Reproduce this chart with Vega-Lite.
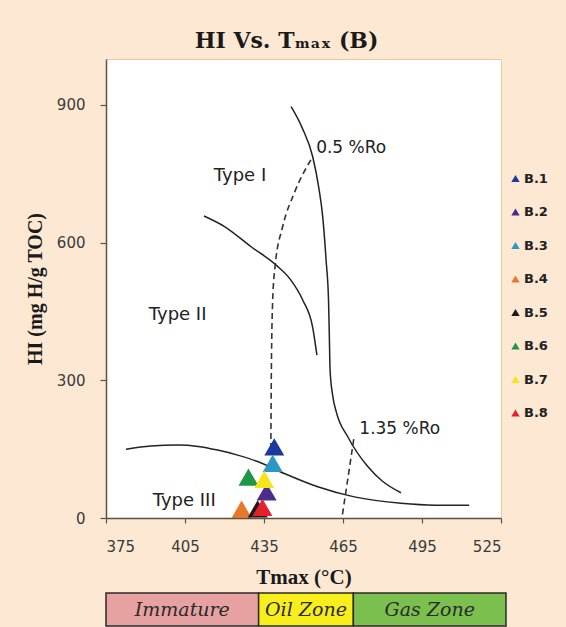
{
  "$schema": "https://vega.github.io/schema/vega-lite/v6.json",
  "background": "#FDE9D3",
  "padding": {"top": 29, "left": 24, "right": 22, "bottom": 0},
  "title": {
    "text": "HI Vs. Tₘₐₓ  (B)",
    "font": "DejaVu Serif",
    "fontSize": 22,
    "fontWeight": "bold",
    "color": "#1a1a1a",
    "anchor": "middle",
    "offset": 6
  },
  "bounds": "flush",
  "spacing": 75,
  "resolve": {"scale": {"color": "independent"}, "legend": {"color": "independent"}},
  "datasets": {
    "kerogen": [
      {"curve": "Type I", "T": 445.3, "HI": 896},
      {"curve": "Type I", "T": 449.5, "HI": 850},
      {"curve": "Type I", "T": 453.5, "HI": 787},
      {"curve": "Type I", "T": 455.8, "HI": 720},
      {"curve": "Type I", "T": 457.3, "HI": 656},
      {"curve": "Type I", "T": 458.6, "HI": 560},
      {"curve": "Type I", "T": 459.5, "HI": 475},
      {"curve": "Type I", "T": 459.8, "HI": 400},
      {"curve": "Type I", "T": 460.1, "HI": 322},
      {"curve": "Type I", "T": 461.0, "HI": 270},
      {"curve": "Type I", "T": 462.5, "HI": 230},
      {"curve": "Type I", "T": 466.8, "HI": 177},
      {"curve": "Type I", "T": 474.4, "HI": 112},
      {"curve": "Type I", "T": 480.0, "HI": 80},
      {"curve": "Type I", "T": 487.0, "HI": 55},
      {"curve": "Type II", "T": 412.2, "HI": 658},
      {"curve": "Type II", "T": 420.0, "HI": 635},
      {"curve": "Type II", "T": 430.1, "HI": 591},
      {"curve": "Type II", "T": 439.6, "HI": 551},
      {"curve": "Type II", "T": 445.0, "HI": 520},
      {"curve": "Type II", "T": 449.7, "HI": 475},
      {"curve": "Type II", "T": 453.5, "HI": 415},
      {"curve": "Type II", "T": 455.1, "HI": 355},
      {"curve": "Type III", "T": 382.6, "HI": 150},
      {"curve": "Type III", "T": 392.0, "HI": 157},
      {"curve": "Type III", "T": 402.2, "HI": 159},
      {"curve": "Type III", "T": 410.0, "HI": 156},
      {"curve": "Type III", "T": 417.4, "HI": 148},
      {"curve": "Type III", "T": 425.0, "HI": 137},
      {"curve": "Type III", "T": 432.6, "HI": 123},
      {"curve": "Type III", "T": 442.7, "HI": 97},
      {"curve": "Type III", "T": 455.4, "HI": 68},
      {"curve": "Type III", "T": 469.3, "HI": 46},
      {"curve": "Type III", "T": 487.0, "HI": 32},
      {"curve": "Type III", "T": 500.0, "HI": 28},
      {"curve": "Type III", "T": 512.9, "HI": 28}
    ],
    "ro": [
      {"line": "0.5 %Ro", "T": 437.6, "HI": 150},
      {"line": "0.5 %Ro", "T": 437.8, "HI": 322},
      {"line": "0.5 %Ro", "T": 438.3, "HI": 475},
      {"line": "0.5 %Ro", "T": 439.2, "HI": 548},
      {"line": "0.5 %Ro", "T": 442.1, "HI": 635},
      {"line": "0.5 %Ro", "T": 446.5, "HI": 708},
      {"line": "0.5 %Ro", "T": 453.5, "HI": 787},
      {"line": "1.35 %Ro", "T": 464.8, "HI": 8},
      {"line": "1.35 %Ro", "T": 469.3, "HI": 180}
    ],
    "samples": [
      {"sample": "B.1", "T": 438.9, "HI": 155},
      {"sample": "B.2", "T": 436.0, "HI": 57},
      {"sample": "B.3", "T": 438.3, "HI": 119},
      {"sample": "B.4", "T": 426.5, "HI": 19},
      {"sample": "B.5", "T": 432.6, "HI": 20},
      {"sample": "B.6", "T": 429.1, "HI": 89},
      {"sample": "B.7", "T": 435.1, "HI": 84},
      {"sample": "B.8", "T": 434.4, "HI": 23}
    ],
    "typeLabels": [
      {"label": "Type I", "T": 425.9, "HI": 745},
      {"label": "Type II", "T": 402.2, "HI": 442},
      {"label": "Type III", "T": 404.7, "HI": 38}
    ],
    "roLabels": [
      {"label": "0.5 %Ro", "T": 454.8, "HI": 806},
      {"label": "1.35 %Ro", "T": 471.2, "HI": 194}
    ],
    "zones": [
      {"zone": "Immature", "from": 375, "to": 433},
      {"zone": "Oil Zone", "from": 433, "to": 469},
      {"zone": "Gas Zone", "from": 469, "to": 527}
    ]
  },
  "vconcat": [
    {
      "width": 395,
      "height": 459,
      "encoding": {
        "x": {
          "field": "T",
          "type": "quantitative",
          "scale": {"domain": [375, 525], "nice": false, "zero": false},
          "axis": {
            "values": [375, 405, 435, 465, 495, 525],
            "title": "Tmax (°C)",
            "titleFontSize": 21,
            "titlePadding": 12,
            "tickSize": 5,
            "labelPadding": 16
          }
        },
        "y": {
          "field": "HI",
          "type": "quantitative",
          "scale": {"domain": [0, 1000], "nice": false},
          "axis": {
            "values": [0, 300, 600, 900],
            "title": "HI (mg H/g TOC)",
            "titleFontSize": 20,
            "titlePadding": 11,
            "tickSize": 6,
            "labelPadding": 15,
            "minExtent": 50,
            "maxExtent": 50
          }
        }
      },
      "layer": [
        {
          "data": {"name": "kerogen"},
          "mark": {"type": "line", "color": "#222222", "strokeWidth": 1.5, "interpolate": "monotone"},
          "encoding": {"detail": {"field": "curve"}}
        },
        {
          "data": {"name": "ro"},
          "mark": {"type": "line", "color": "#333333", "strokeWidth": 1.6, "strokeDash": [6, 4], "interpolate": "monotone"},
          "encoding": {"detail": {"field": "line"}}
        },
        {
          "data": {"name": "samples"},
          "mark": {"type": "point", "shape": "triangle-up", "filled": true, "size": 400, "opacity": 1},
          "encoding": {
            "color": {
              "field": "sample",
              "type": "nominal",
              "scale": {
                "domain": ["B.1", "B.2", "B.3", "B.4", "B.5", "B.6", "B.7", "B.8"],
                "range": ["#1B3A9C", "#4A2C8C", "#2B97C4", "#E8762C", "#1A1A1A", "#1E9646", "#F5E51B", "#E51F2B"]
              },
              "legend": {
                "title": null,
                "orient": "none",
                "legendX": 403,
                "legendY": 113,
                "symbolType": "triangle-up",
                "symbolSize": 70,
                "labelFont": "DejaVu Sans",
                "labelFontWeight": "bold",
                "labelFontSize": 13,
                "labelColor": "#222222",
                "rowPadding": 19.5,
                "labelOffset": 2
              }
            }
          }
        },
        {
          "data": {"name": "typeLabels"},
          "mark": {"type": "text", "font": "DejaVu Sans", "fontSize": 18, "color": "#222222", "align": "center", "baseline": "middle"},
          "encoding": {"text": {"field": "label"}}
        },
        {
          "data": {"name": "roLabels"},
          "mark": {"type": "text", "font": "DejaVu Sans", "fontSize": 17, "color": "#222222", "align": "left", "baseline": "middle"},
          "encoding": {"text": {"field": "label"}}
        }
      ]
    },
    {
      "width": 400,
      "height": 33,
      "view": {"stroke": null},
      "data": {"name": "zones"},
      "layer": [
        {
          "mark": {"type": "rect", "stroke": "#2a2a2a", "strokeWidth": 1.5},
          "encoding": {
            "x": {"field": "from", "type": "quantitative", "scale": {"domain": [375, 527], "nice": false, "zero": false}, "axis": null},
            "x2": {"field": "to"},
            "color": {
              "field": "zone",
              "type": "nominal",
              "scale": {"domain": ["Immature", "Oil Zone", "Gas Zone"], "range": ["#E6A1A0", "#F7EE1C", "#7BBF4E"]},
              "legend": null
            }
          }
        },
        {
          "transform": [
            {"fold": ["from", "to"], "as": ["edge", "T"]},
            {"aggregate": [{"op": "mean", "field": "T", "as": "mid"}], "groupby": ["zone"]}
          ],
          "mark": {"type": "text", "font": "DejaVu Serif", "fontStyle": "italic", "fontSize": 19, "color": "#2a2a2a", "baseline": "middle"},
          "encoding": {
            "x": {"field": "mid", "type": "quantitative"},
            "text": {"field": "zone"}
          }
        }
      ]
    }
  ],
  "config": {
    "view": {"stroke": "#F2C69A", "fill": "white"},
    "axis": {
      "grid": false,
      "domainColor": "#5E5042",
      "domainWidth": 1.5,
      "tickColor": "#5E5042",
      "tickWidth": 1.2,
      "labelFont": "DejaVu Sans",
      "labelFontSize": 15,
      "labelColor": "#3a3a3a",
      "titleFont": "Liberation Serif",
      "titleFontWeight": "bold",
      "titleColor": "#1a1a1a"
    }
  }
}
